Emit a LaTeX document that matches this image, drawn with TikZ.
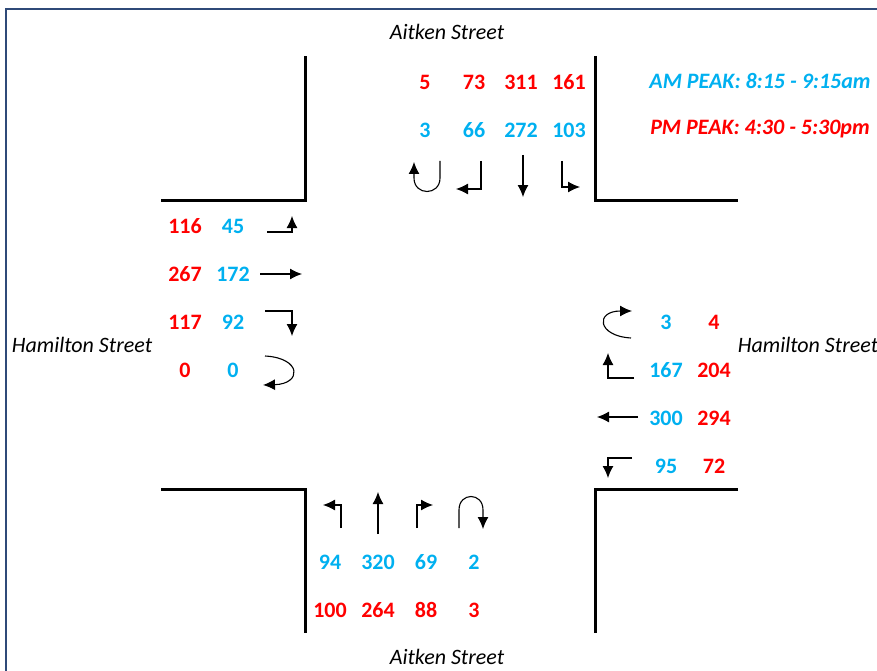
\documentclass[tikz,border=0pt]{standalone}
\usepackage{fontspec}
\setmainfont{Carlito}
\usetikzlibrary{arrows.meta}
\definecolor{amBlue}{HTML}{00B0F0}
\definecolor{pmRed}{HTML}{FF0000}
\definecolor{frameNavy}{HTML}{2F4A78}

\begin{document}
\begin{tikzpicture}[x=1pt,y=-1pt,
  kerb/.style={line width=3pt},
  num/.style={font=\bfseries\fontsize{22}{24}\selectfont,inner sep=0pt},
  am/.style={num,text=amBlue},
  pm/.style={num,text=pmRed},
  street/.style={font=\itshape\fontsize{22}{24}\selectfont,inner sep=0pt},
  peak/.style={font=\bfseries\itshape\fontsize{22}{24}\selectfont},
  turn/.style={line width=1.1pt,-{Latex[length=12pt,width=11pt]}}]
  \useasboundingbox (0,0) rectangle (877,671);
  \clip (0,0) rectangle (877,671);
  \draw[frameNavy,line width=2pt] (6,9) rectangle (900,700);

  % kerbs
  \draw[kerb] (161,200) -- (305,200) -- (305,56);
  \draw[kerb] (595,56) -- (595,200) -- (738,200);
  \draw[kerb] (161,489) -- (305,489) -- (305,633);
  \draw[kerb] (738,489) -- (595,489) -- (595,633);

  % street names
  \node[street] (aitkenN) at (447,32) {Aitken Street};
  \node[street] (aitkenS) at (447,657) {Aitken Street};
  \node[street] (hamiltonW) at (82,345) {Hamilton Street};
  \node[street] (hamiltonE) at (808,345) {Hamilton Street};

  % legend
  \node[am,peak] (amPeak) at (760,81) {AM PEAK: 8:15 - 9:15am};
  \node[pm,peak] (pmPeak) at (760,129) {PM PEAK: 4:30 - 5:30pm};

  % north approach
  \node[pm] (nPm1) at (425,82) {5};
  \node[pm] (nPm2) at (474,82) {73};
  \node[pm] (nPm3) at (521,82) {311};
  \node[pm] (nPm4) at (569,82) {161};
  \node[am] (nAm1) at (425,130) {3};
  \node[am] (nAm2) at (474,130) {66};
  \node[am] (nAm3) at (521,130) {272};
  \node[am] (nAm4) at (569,130) {103};
  \draw[turn] (440,161) -- (440,178) .. controls (440,196) and (414,196) .. (414,178) -- (414,162);
  \draw[turn] (481,161) -- (481,189) -- (456,189);
  \draw[turn] (523,155) -- (523,197);
  \draw[turn] (562,161) -- (562,187) -- (580,187);

  % west approach
  \node[pm] (wPm1) at (185,226) {116};
  \node[pm] (wPm2) at (185,274) {267};
  \node[pm] (wPm3) at (185,322) {117};
  \node[pm] (wPm4) at (185,370) {0};
  \node[am] (wAm1) at (233,226) {45};
  \node[am] (wAm2) at (233,274) {172};
  \node[am] (wAm3) at (233,322) {92};
  \node[am] (wAm4) at (233,370) {0};
  \draw[turn] (267,232) -- (292,232) -- (292,216);
  \draw[turn] (260,274) -- (302,274);
  \draw[turn] (265,311) -- (292,311) -- (292,336);
  \draw[turn] (265,356) .. controls (302,358) and (302,384) .. (263,385);

  % east approach
  \node[am] (eAm1) at (666,322) {3};
  \node[am] (eAm2) at (666,370) {167};
  \node[am] (eAm3) at (666,418) {300};
  \node[am] (eAm4) at (666,466) {95};
  \node[pm] (ePm1) at (714,322) {4};
  \node[pm] (ePm2) at (714,370) {204};
  \node[pm] (ePm3) at (714,418) {294};
  \node[pm] (ePm4) at (714,466) {72};
  \draw[turn] (631,338) .. controls (597,336) and (595,311) .. (632,311);
  \draw[turn] (634,378) -- (608,378) -- (608,353);
  \draw[turn] (638,417) -- (597,417);
  \draw[turn] (632,458) -- (608,458) -- (608,478);

  % south approach
  \draw[turn] (341,528) -- (341,505) -- (323,505);
  \draw[turn] (378,534) -- (378,492);
  \draw[turn] (417,528) -- (417,505) -- (433,505);
  \draw[turn] (459,528) -- (459,510) .. controls (459,492) and (483,492) .. (483,510) -- (483,529);
  \node[am] (sAm1) at (330,562) {94};
  \node[am] (sAm2) at (378,562) {320};
  \node[am] (sAm3) at (426,562) {69};
  \node[am] (sAm4) at (474,562) {2};
  \node[pm] (sPm1) at (330,610) {100};
  \node[pm] (sPm2) at (378,610) {264};
  \node[pm] (sPm3) at (426,610) {88};
  \node[pm] (sPm4) at (474,610) {3};
\end{tikzpicture}
\end{document}
